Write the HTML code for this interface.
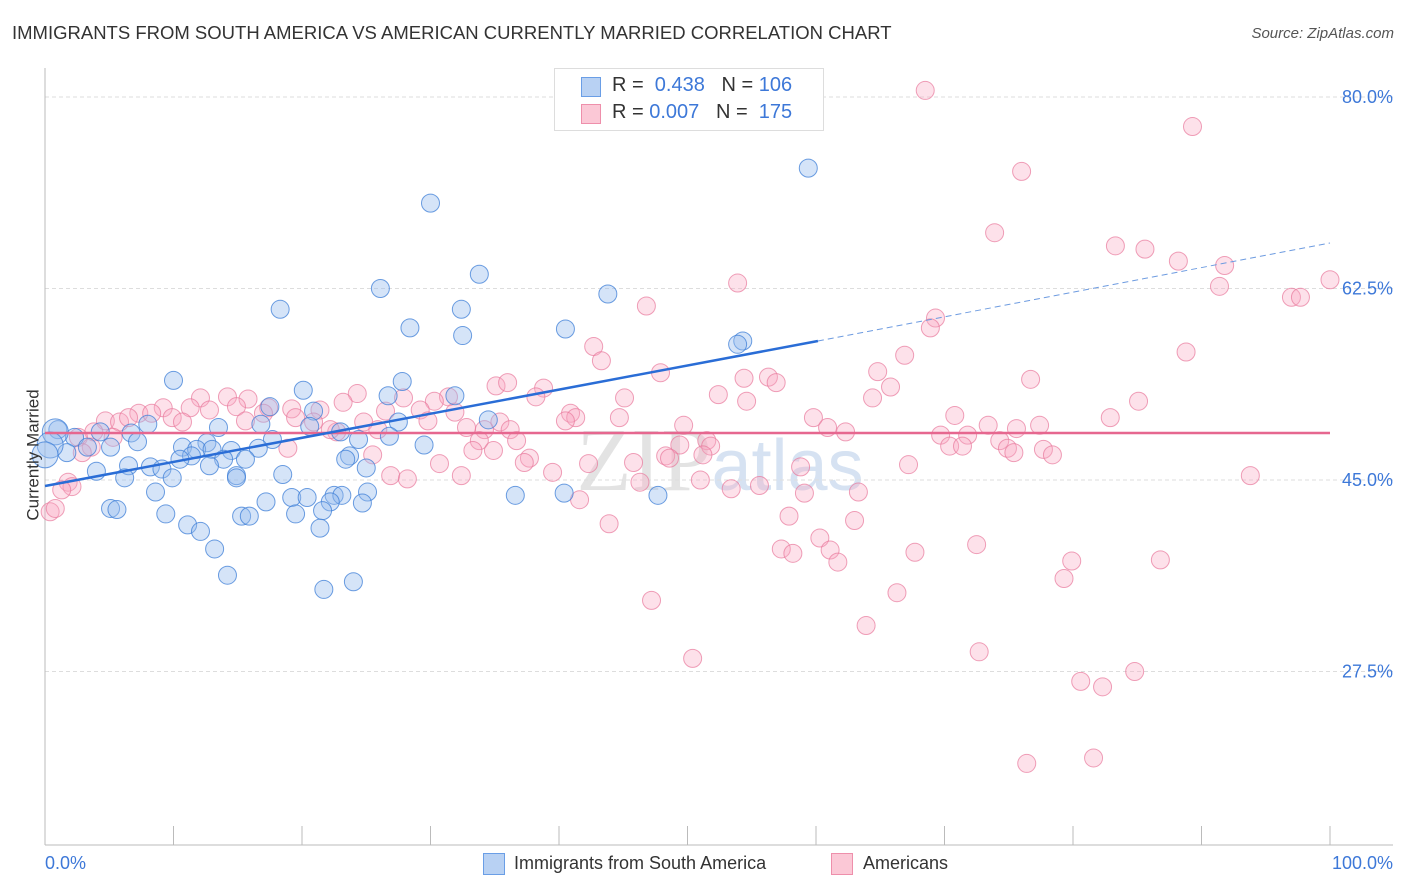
<!DOCTYPE html>
<html><head><meta charset="utf-8"><style>
body{margin:0;background:#fff;font-family:"Liberation Sans",sans-serif;}
#wrap{position:relative;width:1406px;height:892px;overflow:hidden;}
.t{position:absolute;white-space:nowrap;}
</style></head><body>
<div id="wrap">
<div class="t" style="left:12px;top:22px;font-size:18.5px;color:#333;">IMMIGRANTS FROM SOUTH AMERICA VS AMERICAN CURRENTLY MARRIED CORRELATION CHART</div>
<div class="t" style="right:12px;top:25px;font-size:15px;color:#555;font-style:italic;">Source: ZipAtlas.com</div>
<svg id="svg" width="1406" height="892" style="position:absolute;left:0;top:0;">
<text x="720" y="490" text-anchor="middle" font-size="90" font-family="Liberation Serif" fill="#e3e3e3">ZIP<tspan font-family="Liberation Sans" font-size="72" fill="#d6e2f2">atlas</tspan></text>
</svg>
<div class="t" style="left:-32px;top:445px;font-size:17px;color:#333;transform:rotate(-90deg);">Currently Married</div>
<div style="position:absolute;left:554px;top:68px;width:268px;height:61px;border:1px solid #ddd;background:#fff;">
 <div style="position:absolute;left:26px;top:8px;width:18px;height:18px;background:#b8d1f3;border:1px solid #6a9ee6;"></div>
 <div class="t" style="left:57px;top:5px;font-size:20px;color:#333;">R = <span style="color:#3d78d8">&nbsp;0.438</span>&nbsp;&nbsp;&nbsp;N = <span style="color:#3d78d8">106</span></div>
 <div style="position:absolute;left:26px;top:35px;width:18px;height:18px;background:#fbc8d6;border:1px solid #ee8fab;"></div>
 <div class="t" style="left:57px;top:32px;font-size:20px;color:#333;">R = <span style="color:#3d78d8">0.007</span>&nbsp;&nbsp;&nbsp;N = &nbsp;<span style="color:#3d78d8">175</span></div>
</div>
<div class="t" style="left:45px;top:853px;font-size:18px;color:#3d78d8;">0.0%</div>
<div class="t" style="right:13px;top:853px;font-size:18px;color:#3d78d8;">100.0%</div>
<div style="position:absolute;left:483px;top:853px;width:20px;height:20px;background:#b8d1f3;border:1px solid #6a9ee6;"></div>
<div class="t" style="left:514px;top:853px;font-size:18px;color:#333;">Immigrants from South America</div>
<div style="position:absolute;left:831px;top:853px;width:20px;height:20px;background:#fbc8d6;border:1px solid #ee8fab;"></div>
<div class="t" style="left:863px;top:853px;font-size:18px;color:#333;">Americans</div>
</div>
<script>
const yTicks=[80,62.5,45,27.5];
const yTickLabels=["80.0%","62.5%","45.0%","27.5%"];
const blueX=[59.4,30.0,33.8,26.1,43.8,18.3,32.4,28.4,40.5,32.5,54.3,53.9,10.0,27.8,20.1,26.7,31.9,17.5,20.9,34.5,27.5,8.0,16.8,20.6,13.5,1.0,4.3,2.3,6.7,23,26.8,17.7,24.4,7.2,29.5,3.3,5.1,12.6,10.7,11.8,13.0,16.6,14.5,23.7,11.4,1.7,10.5,15.6,23.4,13.9,4.0,6.5,8.2,9.1,12.8,18.5,25.0,6.2,9.9,14.9,14.9,8.6,17.2,19.2,20.4,22.5,23.1,25.1,22.2,24.7,36.6,40.4,47.7,5.1,5.6,9.4,19.5,15.3,15.9,21.6,11.1,12.1,21.4,13.2,14.2,24.0,21.7,0.8,0.4,0.0];
const blueY=[73.5,70.3,63.8,62.5,62.0,60.6,60.6,58.9,58.8,58.2,57.7,57.4,54.1,54.0,53.2,52.7,52.7,51.7,51.3,50.5,50.3,50.1,50.1,49.9,49.8,49.6,49.4,48.9,49.3,49.4,49.0,48.7,48.7,48.5,48.2,48.0,48.0,48.4,48.0,47.8,47.8,47.9,47.7,47.2,47.2,47.5,46.9,46.9,46.9,46.9,45.8,46.3,46.2,46.0,46.3,45.5,46.1,45.2,45.2,45.4,45.2,43.9,43.0,43.4,43.4,43.6,43.6,43.9,43.0,42.9,43.6,43.8,43.6,42.4,42.3,41.9,41.9,41.7,41.7,42.2,40.9,40.3,40.6,38.7,36.3,35.7,35.0,49.4,48.2,47.3];
const pinkX=[68.5,89.3,76.0,73.9,83.3,85.6,88.2,91.8,100,91.4,97.0,97.7,53.9,46.8,69.3,68.9,42.7,43.3,66.9,88.8,47.9,64.8,56.3,54.4,56.9,76.7,65.8,35.1,36.0,38.8,52.4,64.4,54.6,85.1,24.3,31.4,38.2,45.1,12.1,14.2,15.8,27.9,30.3,23.2,9.2,11.3,14.9,17.4,19.2,21.4,26.5,29.2,31.9,7.3,8.3,9.9,12.8,17.0,19.5,24.8,29.8,40.9,41.3,44.7,59.8,70.8,82.9,4.7,5.8,6.5,10.7,15.6,20.9,35.4,36.2,40.5,49.7,60.9,73.4,77.4,75.6,3.8,5.3,2.6,22.7,25.9,32.8,34.2,22.2,62.3,69.7,71.8,74.3,33.8,36.7,49.4,51.5,51.8,70.4,71.4,74.9,75.4,77.7,78.4,3.6,2.9,33.3,34.9,25.5,18.9,48.3,48.6,51.2,37.7,37.3,30.7,45.8,42.3,58.8,67.2,39.5,26.9,32.4,28.2,46.3,51.0,55.6,53.4,63.3,93.8,1.8,2.1,1.3,59.1,41.6,57.9,63.0,43.9,0.4,0.8,60.3,57.3,58.2,61.1,72.5,67.7,61.7,79.9,86.8,79.3,66.3,47.2,63.9,72.7,50.4,80.6,82.3,84.8,76.4,81.6];
const pinkY=[80.6,77.3,73.2,67.6,66.4,66.1,65.0,64.6,63.3,62.7,61.7,61.7,63.0,60.9,59.8,58.9,57.2,55.9,56.4,56.7,54.8,54.9,54.4,54.3,53.9,54.2,53.5,53.6,53.9,53.4,52.8,52.5,52.2,52.2,52.9,52.6,52.6,52.5,52.5,52.6,52.4,52.5,52.2,52.1,51.6,51.6,51.7,51.6,51.5,51.4,51.3,51.4,51.2,51.1,51.1,50.7,51.4,51.1,50.7,50.3,50.4,51.1,50.7,50.7,50.7,50.9,50.7,50.4,50.3,50.7,50.3,50.4,50.3,50.3,49.6,50.4,50.0,49.8,50.0,50.0,49.7,49.4,48.9,48.9,49.4,49.6,49.8,49.6,49.6,49.4,49.1,49.1,48.6,48.6,48.6,48.2,48.6,48.1,48.1,48.1,47.9,47.5,47.8,47.3,48.0,47.5,47.7,47.7,47.3,47.9,47.2,47.0,47.3,47.0,46.6,46.5,46.6,46.5,46.2,46.4,45.7,45.4,45.4,45.1,44.8,45.0,44.5,44.2,43.9,45.4,44.8,44.4,44.1,43.8,43.2,41.7,41.3,41.0,42.1,42.4,39.7,38.7,38.3,38.6,39.1,38.4,37.5,37.6,37.7,36.0,34.7,34.0,31.7,29.3,28.7,26.6,26.1,27.5,19.1,19.6];
const blueTrend=[[0,44.45],[60.15,57.7]];
const blueTrendDash=[[60.15,57.7],[100,66.66]];
const pinkTrend=[[0,49.3],[100,49.3]];

const X0=45,X1=1330,Yt=97,PX=10.943;
const sx=v=>X0+(X1-X0)*v/100;
const sy=v=>Yt+(80-v)*PX;
const svg=document.getElementById('svg');
const NS='http://www.w3.org/2000/svg';
function mk(t,a){const e=document.createElementNS(NS,t);for(const k in a)e.setAttribute(k,a[k]);svg.appendChild(e);return e;}
yTicks.forEach((v,i)=>{
 const g=mk('line',{x1:45,x2:1393,y1:sy(v),y2:sy(v),stroke:'#ddd','stroke-dasharray':'4,3'});
 
 
 const t=mk('text',{x:1393,y:sy(v)+6,'text-anchor':'end','font-size':18,fill:'#3d78d8'});
 t.textContent=yTickLabels[i];
 
 
});
const ax=mk('line',{x1:45,x2:1393,y1:845,y2:845,stroke:'#bbb'});


const ay=mk('line',{x1:45,x2:45,y1:68,y2:845,stroke:'#bbb'});


for(let i=0;i<=10;i++){const tk=mk('line',{x1:sx(i*10),x2:sx(i*10),y1:826,y2:845,stroke:'#bbb'});
 
 }
pinkX.forEach((v,i)=>{const c=mk('circle',{cx:sx(v),cy:sy(pinkY[i]),r:9,fill:'rgba(248,170,194,0.35)',stroke:'rgba(232,120,155,0.7)','stroke-width':1});
 
 });
blueX.forEach((v,i)=>{const c=mk('circle',{cx:sx(v),cy:sy(blueY[i]),r:i>=blueX.length-3?13:9,fill:'rgba(150,188,238,0.4)',stroke:'rgba(60,125,215,0.75)','stroke-width':1});
 
 });
const l1=mk('line',{x1:sx(pinkTrend[0][0]),y1:sy(pinkTrend[0][1]),x2:sx(pinkTrend[1][0]),y2:sy(pinkTrend[1][1]),stroke:'#e6678f','stroke-width':2.5});


const l2=mk('line',{x1:sx(blueTrend[0][0]),y1:sy(blueTrend[0][1]),x2:sx(blueTrend[1][0]),y2:sy(blueTrend[1][1]),stroke:'#2a6dd6','stroke-width':2.5});


const l3=mk('line',{x1:sx(blueTrendDash[0][0]),y1:sy(blueTrendDash[0][1]),x2:sx(blueTrendDash[1][0]),y2:sy(blueTrendDash[1][1]),stroke:'#6d9be0','stroke-width':1,'stroke-dasharray':'6,4'});


</script>
</body></html>
